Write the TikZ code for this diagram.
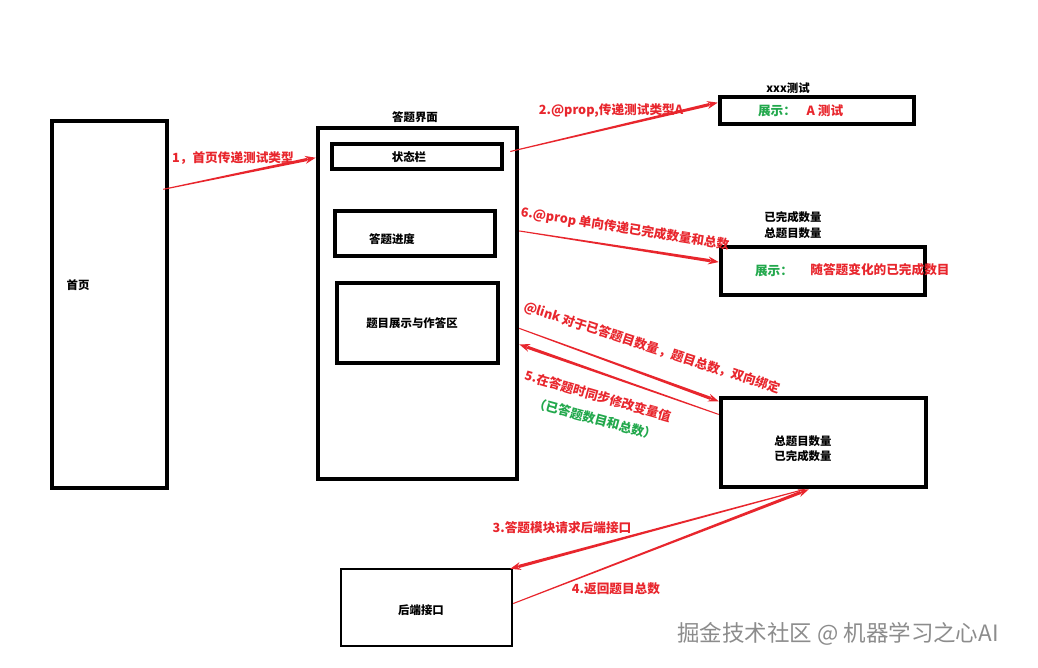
\documentclass[tikz,border=0pt]{standalone}
\usepackage{fontspec}
\setmainfont{Noto Sans CJK SC}
\usetikzlibrary{calc,fit,arrows.meta}
\definecolor{flowred}{RGB}{232,38,45}
\definecolor{showgreen}{RGB}{34,168,76}
\tikzset{
  frame-thick/.style={draw=black, line width=2.6pt, inner sep=0pt},
  frame-thin/.style={draw=black, line width=1.4pt, inner sep=0pt},
  label-black/.style={font=\fontsize{6.5}{8}\selectfont\bfseries, text=black, inner sep=0pt},
  label-red/.style={font=\fontsize{7.2}{9}\selectfont\bfseries, text=flowred, inner sep=0pt},
  label-green/.style={label-red, text=showgreen},
  watermark/.style={font=\fontsize{12.8}{14}\selectfont, text=black!45, inner sep=0pt}
}
% tapered red arrow: thin at #1, thick at #2
\newcommand{\flowarrow}[2]{
  \coordinate (flow-base) at ($(#2)!5pt!(#1)$);
  \fill[flowred] ($(#1)!0.3pt!90:(#2)$) -- ($(flow-base)!0.9pt!90:(#2)$)
    -- ($(flow-base)!0.9pt!-90:(#2)$) -- ($(#1)!0.3pt!-90:(#2)$) -- cycle;
  \draw[flowred, line width=0.8pt, -{Stealth[length=6pt, width=4.5pt]}] ($(#2)!8pt!(#1)$) -- (#2);
}

\begin{document}
\begin{tikzpicture}[x=0.02cm, y=-0.02cm]
  \useasboundingbox (0,0) rectangle (1038,668);

  % Frames
  \node[frame-thick, fit={(52,121) (167,488)}] (home) {};
  \node[frame-thick, fit={(318,128) (517,479)}] (quiz) {};
  \node[frame-thick, fit={(332,144) (502,169)}] (status) {};
  \node[frame-thick, fit={(335,211) (495,256)}] (progress) {};
  \node[frame-thick, fit={(337,283) (498,363)}] (answer) {};
  \node[frame-thick, fit={(720,97) (914,124)}] (title-bar) {};
  \node[frame-thick, fit={(721,247) (925,295)}] (count-bar) {};
  \node[frame-thick, fit={(721,398) (926,487)}] (store) {};
  \node[frame-thin, fit={(341,569) (512,646)}] (backend) {};

  % Frame texts
  \node[label-black] (home-text) at (78,285) {首页};
  \node[label-black] (quiz-text) at (415,117) {答题界面};
  \node[label-black] (status-text) at (409,157) {状态栏};
  \node[label-black] (progress-text) at (392,239) {答题进度};
  \node[label-black] (answer-text) at (412,323) {题目展示与作答区};
  \node[label-black] (title-text) at (788,88) {xxx测试};
  \node[label-black] (done-text) at (793,217) {已完成数量};
  \node[label-black] (total-text) at (793,233) {总题目数量};
  \node[label-black] (store-total) at (803,441) {总题目数量};
  \node[label-black] (store-done) at (803,456) {已完成数量};
  \node[label-black] (backend-text) at (421,610) {后端接口};
  \node[label-green] (show-a) at (777,111) {展示：};
  \node[label-red] (show-a-value) at (825,111) {A 测试};
  \node[label-green] (show-b) at (774,271) {展示：};
  \node[label-red] (show-b-value) at (880,270) {随答题变化的已完成数目};

  % Connector ends
  \coordinate (home-out) at ($(home.north east)!0.19!(home.south east)+(-6,0)$);
  \coordinate (quiz-in) at ($(quiz.north west)!0.09!(quiz.south west)$);
  \coordinate (status-out) at ($(status.east)+(6,-5)$);
  \coordinate (title-in) at ($(title-bar.north west)!0.25!(title-bar.south west)$);
  \coordinate (quiz-out-a) at ($(quiz.north east)!0.296!(quiz.south east)$);
  \coordinate (count-in) at ($(count-bar.north west)!0.33!(count-bar.south west)$);
  \coordinate (quiz-out-b) at ($(quiz.north east)!0.57!(quiz.south east)$);
  \coordinate (store-in-a) at ($(store.north west)!0.06!(store.south west)$);
  \coordinate (store-out-a) at ($(store.north west)!0.2!(store.south west)$);
  \coordinate (quiz-in-b) at ($(quiz.north east)!0.615!(quiz.south east)$);
  \coordinate (store-out-b) at ($(store.south west)!0.41!(store.south east)$);
  \coordinate (backend-in) at ($(backend.north east)+(-3,1)$);
  \coordinate (backend-out) at ($(backend.north east)!0.45!(backend.south east)$);
  \coordinate (store-in-b) at ($(store.south west)!0.43!(store.south east)$);

  % Connectors
  \flowarrow{home-out}{quiz-in}
  \flowarrow{status-out}{title-in}
  \flowarrow{quiz-out-a}{count-in}
  \flowarrow{quiz-out-b}{store-in-a}
  \flowarrow{store-out-a}{quiz-in-b}
  \flowarrow{store-out-b}{backend-in}
  \flowarrow{backend-out}{store-in-b}

  % Connector labels
  \node[label-red] (step-1) at (233,158) {1，首页传递测试类型};
  \node[label-red] (step-2) at (611,110) {2.@prop,传递测试类型A};
  \node[label-red, rotate=-9] (step-6) at (625,229) {6.@prop 单向传递已完成数量和总数};
  \node[label-red, rotate=-18] (step-link) at (652,348) {@link 对于已答题目数量，题目总数，双向绑定};
  \node[label-red, rotate=-16] (step-5) at (598,396) {5.在答题时同步修改变量值};
  \node[label-green, rotate=-15] (step-5-note) at (595,419) {（已答题数目和总数）};
  \node[label-red] (step-3) at (562,528) {3.答题模块请求后端接口};
  \node[label-red] (step-4) at (616,589) {4.返回题目总数};

  \node[watermark] (mark) at (838,634) {掘金技术社区 @ 机器学习之心AI};
\end{tikzpicture}
\end{document}
